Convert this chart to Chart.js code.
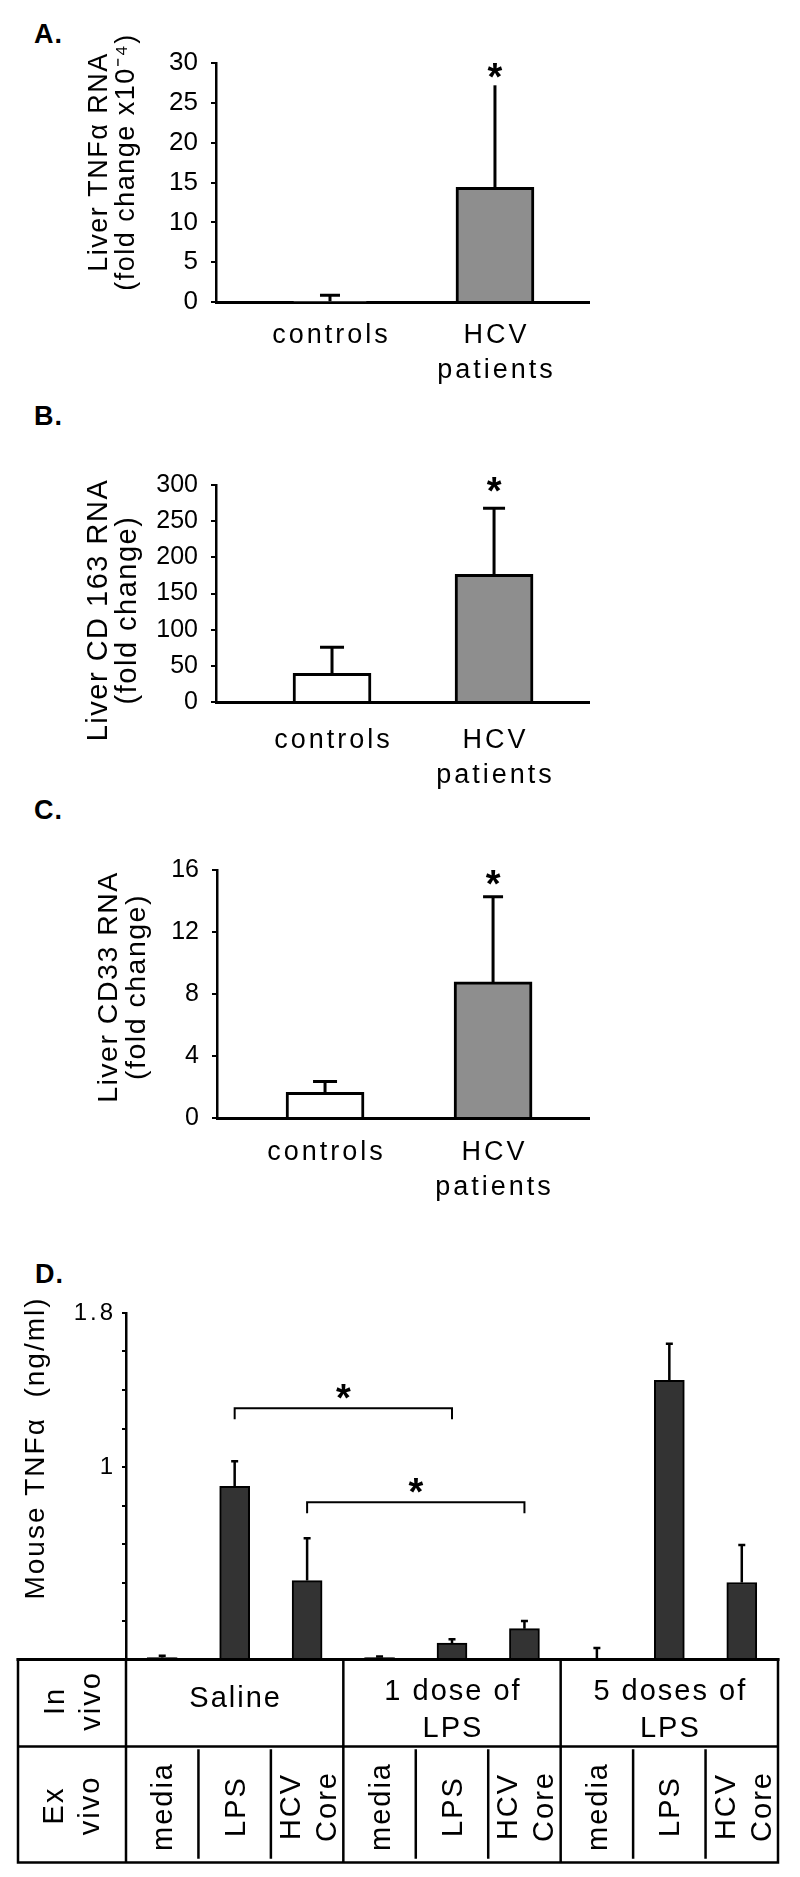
<!DOCTYPE html>
<html>
<head>
<meta charset="utf-8">
<script src="https://cdn.jsdelivr.net/npm/chart.js@4.4.0/dist/chart.umd.min.js"></script>
<style>
  body { margin: 0; background: #fff; }
  #page { position: relative; width: 800px; height: 1877px; overflow: hidden; background: #fff; }
  canvas { position: absolute; left: 0; }
  .letter { position: absolute; font: bold 27px 'Liberation Sans', Arial, sans-serif; line-height: 27px; letter-spacing: 1px; }
</style>
</head>
<body>
<div id="page">
  <div class="letter" style="left:34px;top:21px">A.</div>
  <div class="letter" style="left:34px;top:403px">B.</div>
  <div class="letter" style="left:34px;top:797px">C.</div>
  <div class="letter" style="left:35px;top:1261px">D.</div>
  <canvas id="chartA" width="600" height="400" style="top:0px"></canvas>
  <canvas id="chartB" width="600" height="400" style="top:400px"></canvas>
  <canvas id="chartC" width="600" height="440" style="top:800px"></canvas>
  <canvas id="chartD" width="800" height="637" style="top:1240px"></canvas>
</div>
<script>
// ---- data ----
var humanCategories = ['controls', ['HCV', 'patients']];

var tnfTicks = [0, 5, 10, 15, 20, 25, 30];
var tnfValues = [0.1, 14.4];
var tnfErrors = [0.84, 27.2];

var cd163Ticks = [0, 50, 100, 150, 200, 250, 300];
var cd163Values = [39.7, 176.5];
var cd163Errors = [75.6, 267.8];

var cd33Ticks = [0, 4, 8, 12, 16];
var cd33Values = [1.65, 8.78];
var cd33Errors = [2.36, 14.28];

var mouseInVivo = ['Saline', ['1 dose of', 'LPS'], ['5 doses of', 'LPS']];
var mouseExVivo = ['media', 'LPS', ['HCV', 'Core']];
var mouseValues = [0.01, 0.90, 0.41, 0.01, 0.085, 0.16, 0.005, 1.45, 0.40];
var mouseErrors = [0.02, 1.03, 0.63, 0.015, 0.105, 0.20, 0.06, 1.64, 0.595];
var mouseTicks = [0, 0.2, 0.4, 0.6, 0.8, 1, 1.2, 1.4, 1.6, 1.8];
var mouseTickLabels = ['', '', '', '', '', '1', '', '', '', '1.8'];
// [from column, to column, height of the bracket]
var mouseBrackets = [[1, 4, 1.305], [2, 5, 0.817]];

var FONT = "'Liberation Sans', Arial, sans-serif";
var STAR_FONT = 'bold 38px ' + FONT;
var STAR_DROP = 22;   // baseline sits this far below the star's centre

Chart.defaults.font.family = FONT;
Chart.defaults.color = '#000';
Chart.defaults.animation = false;
Chart.defaults.plugins.legend.display = false;
Chart.defaults.plugins.tooltip.enabled = false;

// draw rotated (bottom-to-top) text lines, one x per line
function rotatedLines(ctx, lines, xs, y) {
    lines.forEach(function (t, j) {
        ctx.save();
        ctx.translate(xs[j], y);
        ctx.rotate(-Math.PI / 2);
        ctx.fillText(t, 0, 0);
        ctx.restore();
    });
}

function asLines(label) {
    return Array.isArray(label) ? label : [label];
}

// error bars, star, category labels and axis title for panels A-C
function humanExtras(categories, errors, look) {
    return {
        id: 'humanExtras',
        afterDatasetsDraw: function (chart) {
            var ctx = chart.ctx;
            var ys = chart.scales.y;
            var bars = chart.getDatasetMeta(0).data;
            ctx.save();
            ctx.strokeStyle = '#000';
            ctx.lineWidth = 3;
            errors.forEach(function (e, i) {
                var x = bars[i].x, top = ys.getPixelForValue(e), half = look.caps[i] / 2;
                ctx.beginPath();
                ctx.moveTo(x, bars[i].y);
                ctx.lineTo(x, top);
                if (half) {
                    ctx.moveTo(x - half, top);
                    ctx.lineTo(x + half, top);
                }
                ctx.stroke();
            });
            var s = bars.length - 1;
            ctx.fillStyle = '#000';
            ctx.font = STAR_FONT;
            ctx.textAlign = 'center';
            ctx.textBaseline = 'alphabetic';
            ctx.fillText('*', bars[s].x, ys.getPixelForValue(errors[s]) - look.starGap + STAR_DROP);
            ctx.restore();
        },
        afterDraw: function (chart) {
            var ctx = chart.ctx;
            var xs = chart.scales.x;
            var bottom = chart.chartArea.bottom;
            ctx.save();
            ctx.fillStyle = '#000';
            ctx.textAlign = 'center';
            ctx.textBaseline = 'alphabetic';
            ctx.font = '27px ' + FONT;
            ctx.letterSpacing = '3px';
            categories.forEach(function (c, i) {
                asLines(c).forEach(function (t, j) {
                    ctx.fillText(t, xs.getPixelForValue(i) + 1.5, bottom + look.labelBase + j * 35);
                });
            });
            // y axis title
            ctx.textBaseline = 'middle';
            ctx.font = look.titleSize + 'px ' + FONT;
            ctx.letterSpacing = '1.5px';
            rotatedLines(ctx, look.title, look.titleX, look.titleY);
            ctx.restore();
        }
    };
}

function makeHumanChart(id, values, errors, yTicks, look) {
    return new Chart(document.getElementById(id), {
        type: 'bar',
        data: {
            datasets: [{
                data: values.map(function (v, i) { return { x: i, y: v }; }),
                backgroundColor: ['#ffffff', '#8e8e8e'],
                borderColor: '#000',
                borderWidth: 3,
                borderSkipped: 'bottom',
                barThickness: 78
            }]
        },
        options: {
            responsive: false,
            devicePixelRatio: 1,
            layout: { padding: { top: look.top, right: look.right, left: 0, bottom: 0 } },
            scales: {
                x: {
                    type: 'linear',
                    min: look.xMin,
                    max: look.xMax,
                    offset: false,
                    z: 1,
                    ticks: { display: false },
                    grid: { display: false, drawTicks: false },
                    border: { display: true, color: '#000', width: 3 },
                    afterFit: function (s) { s.height = look.xHeight; }
                },
                y: {
                    min: yTicks[0],
                    max: yTicks[yTicks.length - 1],
                    afterBuildTicks: function (s) {
                        s.ticks = yTicks.map(function (v) { return { value: v }; });
                    },
                    ticks: { font: { size: look.tickSize }, padding: 13, color: '#000' },
                    grid: { drawOnChartArea: false, tickLength: 5, color: '#000', lineWidth: 2 },
                    border: { display: true, color: '#000', width: 2.5 },
                    afterFit: function (s) { s.width = look.axisX; }
                }
            }
        },
        plugins: [humanExtras(humanCategories, errors, look)]
    });
}

makeHumanChart('chartA', tnfValues, tnfErrors, tnfTicks, {
    top: 63, right: 11, axisX: 216, xHeight: 98, xMin: -0.691, xMax: 1.570,
    tickSize: 26, caps: [20, 0], starGap: 17, labelBase: 41,
    title: ['Liver TNF\u03b1 RNA', '(fold change x10\u207b\u2074)'], titleSize: 27, titleX: [100, 127], titleY: 162
});

makeHumanChart('chartB', cd163Values, cd163Errors, cd163Ticks, {
    top: 85, right: 11, axisX: 216, xHeight: 98, xMin: -0.716, xMax: 1.586,
    tickSize: 25, caps: [24, 22], starGap: 26, labelBase: 46,
    title: ['Liver CD 163 RNA', '(fold change)'], titleSize: 29, titleX: [99, 128], titleY: 210
});

makeHumanChart('chartC', cd33Values, cd33Errors, cd33Ticks, {
    top: 70, right: 11, axisX: 217, xHeight: 122, xMin: -0.643, xMax: 1.571,
    tickSize: 25, caps: [24, 20], starGap: 22, labelBase: 42,
    title: ['Liver CD33 RNA', '(fold change)'], titleSize: 28.5, titleX: [109, 137], titleY: 187
});

// ---- panel D: mouse TNF with the in vivo / ex vivo table ----
var mouseColumns = [];
mouseInVivo.forEach(function (g) {
    mouseExVivo.forEach(function (e) {
        mouseColumns.push(asLines(g).join(' ') + ' / ' + asLines(e).join(' '));
    });
});

var mouseExtras = {
    id: 'mouseExtras',
    beforeDraw: function (chart) {
        chart.ctx.letterSpacing = '3px';
    },
    afterDatasetsDraw: function (chart) {
        var ctx = chart.ctx;
        var ys = chart.scales.y;
        var bars = chart.getDatasetMeta(0).data;
        ctx.save();
        ctx.strokeStyle = '#000';
        ctx.lineWidth = 2.5;
        mouseErrors.forEach(function (e, i) {
            var x = bars[i].x, top = ys.getPixelForValue(e);
            ctx.beginPath();
            ctx.moveTo(x, bars[i].y);
            ctx.lineTo(x, top);
            ctx.moveTo(x - 3.5, top);
            ctx.lineTo(x + 3.5, top);
            ctx.stroke();
        });
        ctx.lineWidth = 2;
        ctx.fillStyle = '#000';
        ctx.font = STAR_FONT;
        ctx.letterSpacing = '0px';
        ctx.textAlign = 'center';
        ctx.textBaseline = 'alphabetic';
        mouseBrackets.forEach(function (b) {
            var xa = bars[b[0]].x, xb = bars[b[1]].x, y = ys.getPixelForValue(b[2]);
            ctx.beginPath();
            ctx.moveTo(xa, y + 11);
            ctx.lineTo(xa, y);
            ctx.lineTo(xb, y);
            ctx.lineTo(xb, y + 11);
            ctx.stroke();
            ctx.fillText('*', (xa + xb) / 2, y - 19 + STAR_DROP);
        });
        ctx.restore();
    },
    afterDraw: function (chart) {
        var ctx = chart.ctx;
        var ca = chart.chartArea;
        var xs = chart.scales.x;
        var step = xs.getPixelForValue(1) - xs.getPixelForValue(0);
        var edge = function (i) { return i >= mouseColumns.length ? ca.right : xs.getPixelForValue(i) - step / 2; };
        var left = 18, y0 = ca.bottom, y1 = y0 + 87, y2 = y0 + 203;
        ctx.save();
        ctx.strokeStyle = '#000';
        ctx.lineCap = 'square';
        ctx.lineWidth = 3;
        ctx.beginPath();
        ctx.moveTo(left, y0); ctx.lineTo(ca.right, y0);
        ctx.stroke();
        ctx.lineWidth = 2.5;
        ctx.beginPath();
        ctx.moveTo(left, y1); ctx.lineTo(ca.right, y1);
        ctx.moveTo(left, y2); ctx.lineTo(ca.right, y2);
        [left, edge(0), edge(3), edge(6), edge(9)].forEach(function (x) {
            ctx.moveTo(x, y0); ctx.lineTo(x, y2);
        });
        [1, 2, 4, 5, 7, 8].forEach(function (i) {
            ctx.moveTo(edge(i), y1 + 4); ctx.lineTo(edge(i), y2 - 5);
        });
        ctx.stroke();

        ctx.fillStyle = '#000';
        ctx.textAlign = 'center';
        ctx.textBaseline = 'middle';
        ctx.font = '29px ' + FONT;
        ctx.letterSpacing = '2px';
        rotatedLines(ctx, ['In', 'vivo'], [56, 92], (y0 + y1) / 2 - 2);
        rotatedLines(ctx, ['Ex', 'vivo'], [55, 91], (y1 + y2) / 2 + 1);
        mouseInVivo.forEach(function (g, k) {
            var cx = xs.getPixelForValue(k * 3 + 1) + 1;
            var lines = asLines(g);
            if (lines.length === 1) {
                ctx.fillText(lines[0], cx, y0 + 39);
            } else {
                ctx.fillText(lines[0], cx, y0 + 32);
                ctx.fillText(lines[1], cx, y0 + 69);
            }
        });
        mouseColumns.forEach(function (c, i) {
            var cx = xs.getPixelForValue(i) + 2;
            var lines = asLines(mouseExVivo[i % mouseExVivo.length]);
            if (lines.length === 1) {
                rotatedLines(ctx, lines, [cx], (y1 + y2) / 2 + 2);
            } else {
                rotatedLines(ctx, lines, [cx - 17, cx + 19], (y1 + y2) / 2 + 2);
            }
        });
        // y axis title
        ctx.font = '28px ' + FONT;
        rotatedLines(ctx, ['Mouse TNF\u03b1  (ng/ml)'], [36], 208);
        ctx.restore();
    }
};

new Chart(document.getElementById('chartD'), {
    type: 'bar',
    data: {
        labels: mouseColumns,
        datasets: [{
            data: mouseValues,
            backgroundColor: '#333333',
            borderColor: '#000',
            borderWidth: 2,
            borderSkipped: 'bottom',
            barThickness: 30
        }]
    },
    options: {
        responsive: false,
        devicePixelRatio: 1,
        layout: { padding: { top: 73, right: 22, left: 0, bottom: 0 } },
        scales: {
            x: {
                z: 1,
                ticks: { display: false },
                grid: { display: false, drawTicks: false },
                border: { display: true, color: '#000', width: 3 },
                afterFit: function (s) { s.height = 217.5; }
            },
            y: {
                min: 0,
                max: 1.8,
                afterBuildTicks: function (s) {
                    s.ticks = mouseTicks.map(function (v) { return { value: v }; });
                },
                ticks: {
                    autoSkip: false,
                    font: { size: 24 },
                    padding: 6,
                    color: '#000',
                    callback: function (v, i) { return mouseTickLabels[i]; }
                },
                grid: { drawOnChartArea: false, tickLength: 4, color: '#000', lineWidth: 2 },
                border: { display: true, color: '#000', width: 2.5 },
                afterFit: function (s) { s.width = 126; }
            }
        }
    },
    plugins: [mouseExtras]
});
</script>
</body>
</html>
